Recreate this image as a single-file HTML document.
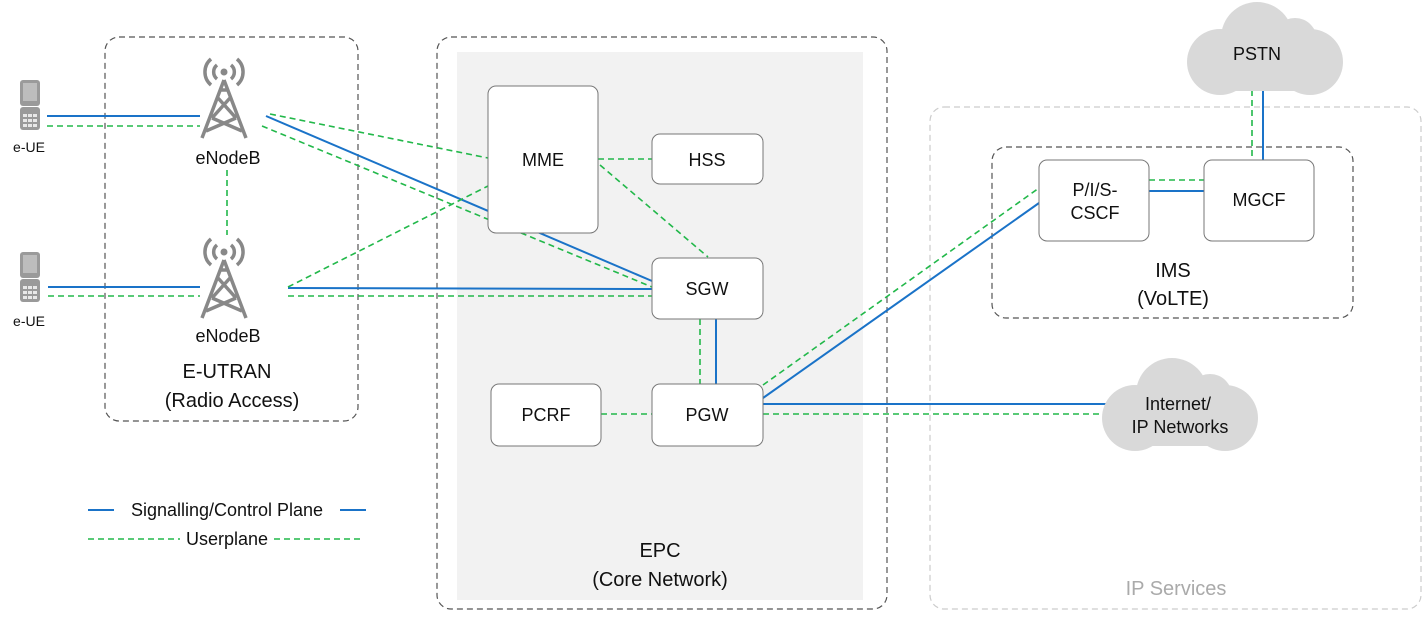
<!DOCTYPE html>
<html><head><meta charset="utf-8"><style>
html,body{margin:0;padding:0;background:#fff;}
svg text{font-family:"Liberation Sans",sans-serif;fill:#111;}
</style></head><body>
<svg width="1425" height="614" viewBox="0 0 1425 614" xmlns="http://www.w3.org/2000/svg">
<defs>
<g id="phone">
<rect x="0" y="0" width="20" height="26" rx="3" fill="#9a9a9a"/>
<rect x="3" y="3" width="14" height="18" fill="#bdbdbd"/>
<rect x="0" y="27" width="20" height="23" rx="3" fill="#9a9a9a"/>
<g fill="#e8e8e8"><rect x="3" y="34" width="4" height="3"/><rect x="8" y="34" width="4" height="3"/><rect x="13" y="34" width="4" height="3"/>
<rect x="3" y="39" width="4" height="3"/><rect x="8" y="39" width="4" height="3"/><rect x="13" y="39" width="4" height="3"/>
<rect x="3" y="44" width="4" height="3"/><rect x="8" y="44" width="4" height="3"/><rect x="13" y="44" width="4" height="3"/></g>
</g>
<g id="tower" fill="none" stroke="#888" stroke-width="3.5">
<circle cx="24" cy="18" r="3.5" fill="#888" stroke="none"/>
<path d="M17 11 A9 9 0 0 0 17 25 M31 11 A9 9 0 0 1 31 25"/>
<path d="M11 5 A17 17 0 0 0 11 31 M37 5 A17 17 0 0 1 37 31"/>
<path d="M24 26 L2 84 M24 26 L46 84 M18 44 L36 64 M30 44 L12 64 M12 64 L42 77 M36 64 L6 77 M20 36 L28 36"/>
</g>
</defs>
<rect x="105" y="37" width="253" height="384" rx="14" fill="none" stroke="#555" stroke-dasharray="6,4" stroke-width="1.2"/>
<rect x="437" y="37" width="450" height="572" rx="14" fill="none" stroke="#555" stroke-dasharray="6,4" stroke-width="1.2"/>
<rect x="457" y="52" width="406" height="548" fill="#f2f2f2"/>
<rect x="930" y="107" width="491" height="502" rx="14" fill="none" stroke="#ccc" stroke-dasharray="6,4" stroke-width="1.2"/>
<rect x="992" y="147" width="361" height="171" rx="14" fill="none" stroke="#555" stroke-dasharray="6,4" stroke-width="1.2"/>
<g stroke-width="2" fill="none">
<g stroke="#1a73c8">
<line x1="47" y1="116" x2="200" y2="116"/>
<line x1="48" y1="287" x2="200" y2="287"/>
<line x1="266" y1="116" x2="652" y2="281"/>
<line x1="288" y1="288" x2="652" y2="289"/>
<line x1="716" y1="319" x2="716" y2="384"/>
<line x1="763" y1="398" x2="1039" y2="203"/>
<line x1="763" y1="404" x2="1110" y2="404"/>
<line x1="1149" y1="191" x2="1204" y2="191"/>
<line x1="1263" y1="88" x2="1263" y2="160"/>
<line x1="88" y1="510" x2="114" y2="510"/><line x1="340" y1="510" x2="366" y2="510"/>
</g>
<g stroke="#22b84a" stroke-dasharray="6,4" stroke-width="1.6">
<line x1="47" y1="126" x2="200" y2="126"/>
<line x1="48" y1="296" x2="200" y2="296"/>
<line x1="227" y1="170" x2="227" y2="235"/>
<line x1="270" y1="114" x2="488" y2="158"/>
<line x1="262" y1="126" x2="652" y2="287"/>
<line x1="288" y1="296" x2="652" y2="296"/>
<line x1="288" y1="287" x2="488" y2="186"/>
<line x1="598" y1="159" x2="652" y2="159"/>
<line x1="600" y1="165" x2="708" y2="257"/>
<line x1="700" y1="319" x2="700" y2="384"/>
<line x1="601" y1="414" x2="652" y2="414"/>
<line x1="763" y1="385" x2="1039" y2="188"/>
<line x1="763" y1="414" x2="1110" y2="414"/>
<line x1="1149" y1="180" x2="1204" y2="180"/>
<line x1="1252" y1="90" x2="1252" y2="160"/>
<line x1="88" y1="539" x2="180" y2="539"/><line x1="274" y1="539" x2="362" y2="539"/>
</g>
</g>
<g fill="#fff" stroke="#777" stroke-width="1">
<rect x="488" y="86" width="110" height="147" rx="8"/>
<rect x="652" y="134" width="111" height="50" rx="8"/>
<rect x="652" y="258" width="111" height="61" rx="8"/>
<rect x="652" y="384" width="111" height="62" rx="8"/>
<rect x="491" y="384" width="110" height="62" rx="8"/>
<rect x="1039" y="160" width="110" height="81" rx="8"/>
<rect x="1204" y="160" width="110" height="81" rx="8"/>
</g>
<g fill="#d9d9d9">
<circle cx="1257" cy="38" r="36"/><circle cx="1220" cy="62" r="33"/><circle cx="1310" cy="62" r="33"/><circle cx="1295" cy="40" r="22"/>
<rect x="1220" y="50" width="90" height="41"/>
<circle cx="1172" cy="394" r="36"/><circle cx="1135" cy="418" r="33"/><circle cx="1225" cy="418" r="33"/><circle cx="1210" cy="396" r="22"/>
<rect x="1135" y="406" width="90" height="40"/>
</g>
<use href="#phone" x="20" y="80"/>
<use href="#phone" x="20" y="252"/>
<use href="#tower" x="200" y="54"/>
<use href="#tower" x="200" y="234"/>
<g font-size="18" text-anchor="middle">
<text x="29" y="152" font-size="14">e-UE</text>
<text x="29" y="326" font-size="14">e-UE</text>
<text x="228" y="164">eNodeB</text>
<text x="228" y="342">eNodeB</text>
<text x="543" y="166">MME</text>
<text x="707" y="166">HSS</text>
<text x="707" y="295">SGW</text>
<text x="707" y="421">PGW</text>
<text x="546" y="421">PCRF</text>
<text x="1095" y="196">P/I/S-</text>
<text x="1095" y="219">CSCF</text>
<text x="1259" y="206">MGCF</text>
<text x="1257" y="60">PSTN</text>
<text x="1178" y="410">Internet/</text>
<text x="1180" y="433">IP Networks</text>
<text x="227" y="378" font-size="20">E-UTRAN</text>
<text x="232" y="407" font-size="20">(Radio Access)</text>
<text x="660" y="557" font-size="20">EPC</text>
<text x="660" y="586" font-size="20">(Core Network)</text>
<text x="1173" y="277" font-size="20">IMS</text>
<text x="1173" y="305" font-size="20">(VoLTE)</text>
<text x="1176" y="595" font-size="20" style="fill:#aaa">IP Services</text>
<text x="227" y="516">Signalling/Control Plane</text>
<text x="227" y="545">Userplane</text>
</g>
</svg>
</body></html>
